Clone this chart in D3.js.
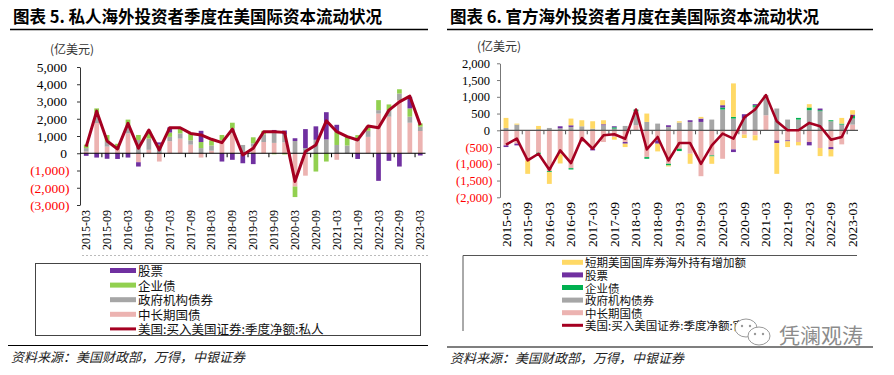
<!DOCTYPE html>
<html>
<head>
<meta charset="utf-8">
<script src="https://cdn.jsdelivr.net/npm/d3@7"></script>
<style>
body { margin: 0; background: #fff; }
</style>
</head>
<body>
<script>
var W = 894, H = 375;

var quarters = ["2015-03","2015-06","2015-09","2015-12","2016-03","2016-06","2016-09","2016-12",
  "2017-03","2017-06","2017-09","2017-12","2018-03","2018-06","2018-09","2018-12",
  "2019-03","2019-06","2019-09","2019-12","2020-03","2020-06","2020-09","2020-12",
  "2021-03","2021-06","2021-09","2021-12","2022-03","2022-06","2022-09","2022-12","2023-03"];

// chart 5: private investors (100m USD)
var privTreasury = [100,1750,385,250,1150,-520,200,-480,700,850,500,-250,150,770,1150,0,
  385,650,600,630,-1930,-1300,0,0,-380,0,700,950,2300,2120,3080,1770,1290];
var privAgency = [200,550,290,100,450,770,650,350,250,300,250,300,300,0,290,480,
  190,450,580,460,710,300,780,800,480,450,100,350,200,380,380,350,250];
var privCorp = [200,300,380,200,350,290,450,150,250,300,400,350,300,290,330,0,
  350,200,-60,-70,-610,0,-1060,-480,770,500,250,280,580,330,250,480,190];
var privEquity = [-150,-250,-320,-330,-250,-250,0,130,300,0,0,650,0,-480,-380,-580,
  -630,0,170,230,160,1100,780,1580,400,0,-330,0,-1600,-440,-770,670,-130];
var privNet = [385,2440,710,250,1730,290,1350,190,1480,1480,1150,1060,810,615,1400,-100,
  290,1250,1250,1210,-1630,100,480,1880,1250,960,770,1580,1480,2500,2980,3310,1630];

// chart 6: official investors (100m USD)
var offTreasury = [-450,-400,-900,-670,-1220,-720,-1130,-350,-550,-350,-200,-350,150,-800,-300,-1000,
  -550,-700,-1370,-750,-850,-570,-130,-150,450,-300,-300,-350,-350,-530,-500,-420,170];
var offAgency = [70,170,0,30,70,60,100,120,50,150,50,130,420,250,200,100,
  230,250,250,320,620,350,350,700,600,650,320,320,600,570,270,170,180];
var offCorp = [0,0,0,-30,-30,0,-40,0,0,0,40,0,50,-50,0,-50,
  -70,0,0,-30,60,50,0,50,0,0,0,50,80,30,30,30,80];
var offEquity = [-50,-50,0,0,0,60,50,0,-50,30,30,-50,0,0,-100,50,
  0,50,100,0,70,-80,130,30,0,-80,-30,0,-100,50,-70,0,40];
var offBills = [300,30,-400,100,-350,-270,200,180,220,120,-80,-100,0,250,-230,-30,
  40,-300,50,-220,150,1000,-100,-150,0,-920,-170,-100,100,-240,-210,170,130];
var offNet = [-430,-250,-900,-700,-1180,-600,-980,-230,-550,-150,-120,-250,620,-570,-200,-900,
  -380,-380,-1000,-450,-100,-250,380,620,1050,270,0,0,220,120,-280,-200,450];

var leftTicks = [-3000,-2000,-1000,0,1000,2000,3000,4000,5000];
var rightTicks = [-2000,-1500,-1000,-500,0,500,1000,1500,2000];

var leftLegend = ["股票","企业债","政府机构债券","中长期国债","美国:买入美国证券:季度净额:私人"];
var rightLegend = ["短期美国国库券海外持有增加额","股票","企业债","政府机构债券","中长期国债","美国:买入美国证券:季度净额:官方"];

var PINK = "#ecb3b1", GRAY = "#a6a6a6", PURPLE = "#7030a0", LINE = "#a50021";

var svg = d3.select("body").append("svg")
  .attr("width", W)
  .attr("height", H);

svg.append("rect").attr("width", W).attr("height", H).attr("fill", "#fff");

var CJK = "'Noto Sans CJK SC', sans-serif";
var NUM = "'Liberation Serif', 'Times New Roman', serif";

function header(x0, x1, title, unitX, unitY) {
  svg.append("text")
    .attr("x", x0 + 3).attr("y", 23)
    .attr("font-family", CJK).attr("font-weight", "bold").attr("font-size", 16.5)
    .attr("fill", "#000")
    .text(title);
  svg.append("line")
    .attr("x1", x0).attr("x2", x1).attr("y1", 29.5).attr("y2", 29.5)
    .attr("stroke", "#000").attr("stroke-width", 1.3);
  svg.append("text")
    .attr("x", unitX).attr("y", unitY)
    .attr("font-family", CJK).attr("font-size", 12).attr("fill", "#333")
    .text("(亿美元)");
}

function footer(x0, x1, y) {
  svg.append("line")
    .attr("x1", x0).attr("x2", x1).attr("y1", y).attr("y2", y)
    .attr("stroke", "#000").attr("stroke-width", 1.2);
  svg.append("text")
    .attr("x", x0 + 3).attr("y", y + 16)
    .attr("font-family", CJK).attr("font-size", 13).attr("font-style", "italic")
    .attr("fill", "#222")
    .text("资料来源：美国财政部，万得，中银证券");
}

function drawPanel(o) {
  var g = svg.append("g");

  var x = d3.scaleBand()
    .domain(quarters)
    .range(o.xRange)
    .paddingInner(0.55)
    .paddingOuter(0.275);
  var y = d3.scaleLinear().domain(o.yDomain).range(o.yRange);

  var rows = quarters.map(function(q, i) {
    var r = { q: q };
    o.series.forEach(function(s) { r[s.name] = s.values[i]; });
    return r;
  });

  var stacked = d3.stack()
    .keys(o.series.map(function(s) { return s.name; }))
    .offset(d3.stackOffsetDiverging)(rows);

  g.selectAll("g.layer")
    .data(stacked)
    .enter()
    .append("g")
    .attr("class", "layer")
    .attr("fill", function(d, i) { return o.series[i].color; })
    .selectAll("rect")
    .data(function(d) { return d; })
    .enter()
    .append("rect")
    .attr("x", function(d) { return x(d.data.q); })
    .attr("width", x.bandwidth())
    .attr("y", function(d) { return y(d[1]); })
    .attr("height", function(d) { return Math.max(0, y(d[0]) - y(d[1])); });

  // y axis
  var yAxis = d3.axisLeft(y)
    .tickValues(o.ticks)
    .tickSize(3)
    .tickSizeOuter(0)
    .tickFormat(function(v) {
      var s = d3.format(",")(Math.abs(v));
      return v < 0 ? "(" + s + ")" : s;
    });
  var ya = g.append("g")
    .attr("transform", "translate(" + o.axisX + ",0)")
    .call(yAxis);
  ya.select(".domain").attr("stroke", o.axisColor);
  ya.selectAll(".tick line").attr("stroke", o.axisColor);
  ya.selectAll(".tick text")
    .attr("font-family", NUM)
    .attr("font-size", o.yFont)
    .attr("x", function(v) { return v < 0 ? -o.negPad : -o.posPad; })
    .attr("fill", function(v) { return v < 0 ? "#ff0000" : "#000"; });

  // zero line with ticks at every other category
  var y0 = y(0);
  g.append("line")
    .attr("x1", o.axisX).attr("x2", o.xRange[1])
    .attr("y1", y0).attr("y2", y0)
    .attr("stroke", o.zeroColor).attr("stroke-width", 1.2);
  var step = x.step();
  var edgeTicks = quarters.filter(function(q, i) { return i % 2 === 0 && i > 0; });
  g.selectAll("line.xt")
    .data(edgeTicks)
    .enter()
    .append("line")
    .attr("class", "xt")
    .attr("x1", function(q) { return x(q) + x.bandwidth() / 2 - step / 2; })
    .attr("x2", function(q) { return x(q) + x.bandwidth() / 2 - step / 2; })
    .attr("y1", y0).attr("y2", y0 + 4)
    .attr("stroke", o.zeroColor);

  // x labels
  var labelQ = quarters.filter(function(q, i) { return i % 2 === 0; });
  g.selectAll("text.xl")
    .data(labelQ)
    .enter()
    .append("text")
    .attr("class", "xl")
    .attr("transform", function(q) {
      return "translate(" + (x(q) + x.bandwidth() / 2) + "," + o.labelY + ") rotate(-90)";
    })
    .attr("text-anchor", "end")
    .attr("dominant-baseline", "central")
    .attr("font-family", NUM)
    .attr("font-size", o.xFont)
    .attr("fill", "#000")
    .text(function(q) { return q; });

  // net line
  var line = d3.line()
    .x(function(d, i) { return x(quarters[i]) + x.bandwidth() / 2; })
    .y(function(d) { return y(d); });
  g.append("path")
    .datum(o.net)
    .attr("d", line)
    .attr("fill", "none")
    .attr("stroke", LINE)
    .attr("stroke-width", o.lineWidth)
    .attr("stroke-linejoin", "round");
}

function legend(o) {
  var g = svg.append("g");
  g.selectAll("g.item")
    .data(o.labels)
    .enter()
    .append("g")
    .each(function(label, i) {
      var it = d3.select(this);
      var cy = o.y0 + i * o.dy;
      if (i === o.labels.length - 1) {
        it.append("line")
          .attr("x1", o.sx).attr("x2", o.sx + o.sw)
          .attr("y1", cy).attr("y2", cy)
          .attr("stroke", LINE).attr("stroke-width", 3);
      } else {
        it.append("rect")
          .attr("x", o.sx).attr("y", cy - 2.5)
          .attr("width", o.sw).attr("height", 5)
          .attr("fill", o.colors[i]);
      }
      it.append("text")
        .attr("x", o.sx + o.sw + 2).attr("y", cy)
        .attr("dominant-baseline", "central")
        .attr("font-family", CJK)
        .attr("font-size", o.font)
        .attr("fill", "#111")
        .text(label);
    });
}

// ---- left panel ----
header(10, 428, "图表 5. 私人海外投资者季度在美国际资本流动状况", 50, 54);
drawPanel({
  xRange: [81, 425.5],
  axisX: 80,
  yDomain: [-3000, 5000],
  yRange: [205, 67],
  ticks: leftTicks,
  yFont: 13.5,
  posPad: 13,
  negPad: 10.5,
  xFont: 12,
  labelY: 210,
  axisColor: "#333",
  zeroColor: "#000",
  lineWidth: 3,
  series: [
    { name: "treasury", values: privTreasury, color: PINK },
    { name: "agency", values: privAgency, color: GRAY },
    { name: "corp", values: privCorp, color: "#92d050" },
    { name: "equity", values: privEquity, color: PURPLE }
  ],
  net: privNet
});
svg.append("line")
  .attr("x1", 82).attr("x2", 428).attr("y1", 255.5).attr("y2", 255.5)
  .attr("stroke", "#bbb").attr("stroke-dasharray", "2,2");
svg.append("rect")
  .attr("x", 35.5).attr("y", 263.5).attr("width", 385).attr("height", 72)
  .attr("fill", "none").attr("stroke", "#444");
legend({
  labels: leftLegend,
  colors: [PURPLE, "#92d050", GRAY, PINK],
  sx: 110, sw: 26, y0: 270.5, dy: 14.6, font: 12.5
});
footer(8, 428, 345.5);

// ---- right panel ----
header(447, 873, "图表 6. 官方海外投资者月度在美国际资本流动状况", 477, 51);
drawPanel({
  xRange: [500.6, 858],
  axisX: 500,
  yDomain: [-2000, 2000],
  yRange: [197.3, 63.3],
  ticks: rightTicks,
  yFont: 12.5,
  posPad: 10,
  negPad: 7.5,
  xFont: 13.5,
  labelY: 202,
  axisColor: "#777",
  zeroColor: "#555",
  lineWidth: 2.6,
  series: [
    { name: "treasury", values: offTreasury, color: PINK },
    { name: "agency", values: offAgency, color: GRAY },
    { name: "corp", values: offCorp, color: "#00b050" },
    { name: "equity", values: offEquity, color: PURPLE },
    { name: "bills", values: offBills, color: "#ffd966" }
  ],
  net: offNet
});
svg.append("path")
  .attr("d", "M463,331V255.5H857")
  .attr("fill", "none").attr("stroke", "#555");
legend({
  labels: rightLegend,
  colors: ["#ffd966", PURPLE, "#00b050", GRAY, PINK],
  sx: 562, sw: 21, y0: 262.3, dy: 12.6, font: 11.5
});
footer(447, 873, 347);

// watermark
var wm = svg.append("g");
wm.append("ellipse").attr("cx", 746).attr("cy", 328).attr("rx", 11).attr("ry", 9)
  .attr("fill", "#fff").attr("stroke", "#999").attr("stroke-width", 1);
wm.append("ellipse").attr("cx", 759).attr("cy", 336).attr("rx", 11).attr("ry", 9)
  .attr("fill", "#fff").attr("stroke", "#999").attr("stroke-width", 1);
[[742, 326], [750, 326], [755, 334], [763, 334]].forEach(function(p) {
  wm.append("circle").attr("cx", p[0]).attr("cy", p[1]).attr("r", 1.2).attr("fill", "#999");
});
wm.append("text")
  .attr("x", 779).attr("y", 343)
  .attr("font-family", CJK).attr("font-size", 21)
  .attr("fill", "#8c8c8c")
  .text("凭澜观涛");
</script>
</body>
</html>
